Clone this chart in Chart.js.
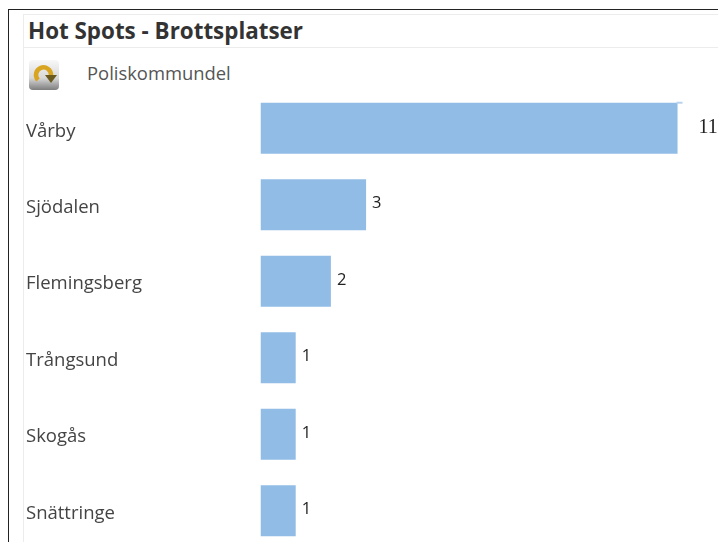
<!DOCTYPE html>
<html lang="sv">
<head>
<meta charset="utf-8">
<title>Hot Spots - Brottsplatser</title>
<script src="https://cdn.jsdelivr.net/npm/chart.js@4/dist/chart.umd.min.js"></script>
<style>
    html, body { margin: 0; padding: 0; width: 718px; height: 542px; overflow: hidden; background: #fff; }
    body { position: relative; font-family: "Open Sans", sans-serif; }
    #frame { position: absolute; left: 8px; top: 9px; right: -2px; bottom: -2px; border: 1px solid #222; }
    #panel { position: absolute; left: 23px; top: 14px; right: -2px; bottom: -2px; border: 1px solid #ececec; }
    #header { position: absolute; left: 24px; right: 0; top: 47px; border-top: 1px solid #ececec; }
    #title { position: absolute; left: 28px; top: 15px; font-size: 22.4px; font-weight: 700; color: #333; white-space: nowrap; }
    #subtitle { position: absolute; left: 87px; top: 60px; font-size: 18.4px; color: #555; white-space: nowrap; }
    #icon { position: absolute; left: 28px; top: 59px; width: 32px; height: 32px; }
    #chartBox { position: absolute; left: 0; top: 0; }
</style>
</head>
<body>
<div id="frame"></div>
<div id="panel"></div>
<div id="header"></div>
<div id="title">Hot Spots - Brottsplatser</div>
<svg id="icon" viewBox="0 0 32 32">
    <defs>
        <linearGradient id="iconBg" x1="0" y1="0" x2="0" y2="1">
            <stop offset="0" stop-color="#f8f8f8"/>
            <stop offset="0.6" stop-color="#d8d8d8"/>
            <stop offset="1" stop-color="#7d7d7d"/>
        </linearGradient>
    </defs>
    <rect x="1" y="1" width="30" height="30" rx="4" fill="url(#iconBg)"/>
    <path d="M10 21 A7.5 7.5 0 1 1 23 16" fill="none" stroke="#d9a520" stroke-width="4.5"/>
    <path d="M17 16 L29 16 L23 24 Z" fill="#6b5a1e"/>
</svg>
<div id="subtitle">Poliskommundel</div>
<div id="chartBox"><canvas id="hotSpotChart" width="718" height="560"></canvas></div>

<script>
const categories = ['Vårby', 'Sjödalen', 'Flemingsberg', 'Trångsund', 'Skogås', 'Snättringe'];
// printed values, next to each bar
const printedValues = ['11', '3', '2', '1', '1', '1'];
// bar lengths as drawn in the picture: the top bar is longer than 11 on the scale of the others
const barLengths = [11.85, 3, 2, 1, 1, 1];
const axisMax = 13;

const valueLabels = {
    id: 'valueLabels',
    afterDatasetsDraw(chart) {
        const { ctx } = chart;
        const bars = chart.getDatasetMeta(0).data;
        ctx.save();
        ctx.textBaseline = 'middle';
        ctx.textAlign = 'left';
        ctx.fillStyle = '#222';
        bars.forEach((bar, i) => {
            // the first label is set in a serif face further out from the bar
            if (i === 0) {
                ctx.font = '20px "Liberation Serif", serif';
                ctx.fillText(printedValues[i], bar.x + 21, bar.y);
                // thin strip along the top edge of the first bar
                ctx.fillStyle = '#b9d3ee';
                ctx.fillRect(bar.x - 1, bar.y - bar.height / 2 - 1, 6, 2);
                ctx.fillStyle = '#222';
            } else {
                ctx.font = '16.5px "Open Sans", sans-serif';
                ctx.fillText(printedValues[i], bar.x + 6, bar.y - 1);
            }
        });
        ctx.restore();
    }
};

new Chart(document.getElementById('hotSpotChart'), {
    type: 'bar',
    data: {
        labels: categories,
        datasets: [{
            label: 'Brottsplatser',
            data: barLengths,
            backgroundColor: '#90bce6',
            categoryPercentage: 1,
            barPercentage: 0.667
        }]
    },
    plugins: [valueLabels],
    options: {
        indexAxis: 'y',
        responsive: false,
        animation: false,
        layout: { padding: { top: 90, bottom: 11, left: 26, right: 0 } },
        plugins: { legend: { display: false }, tooltip: { enabled: false } },
        scales: {
            x: {
                display: false,
                min: 0,
                max: axisMax
            },
            y: {
                grid: { display: false },
                border: { display: false },
                afterFit(axis) { axis.width = 234.5; },
                ticks: {
                    crossAlign: 'far',
                    color: '#444',
                    padding: 0,
                    labelOffset: 3,
                    font: { family: '"Open Sans", sans-serif', size: 18.5 }
                }
            }
        }
    }
});
</script>
</body>
</html>
